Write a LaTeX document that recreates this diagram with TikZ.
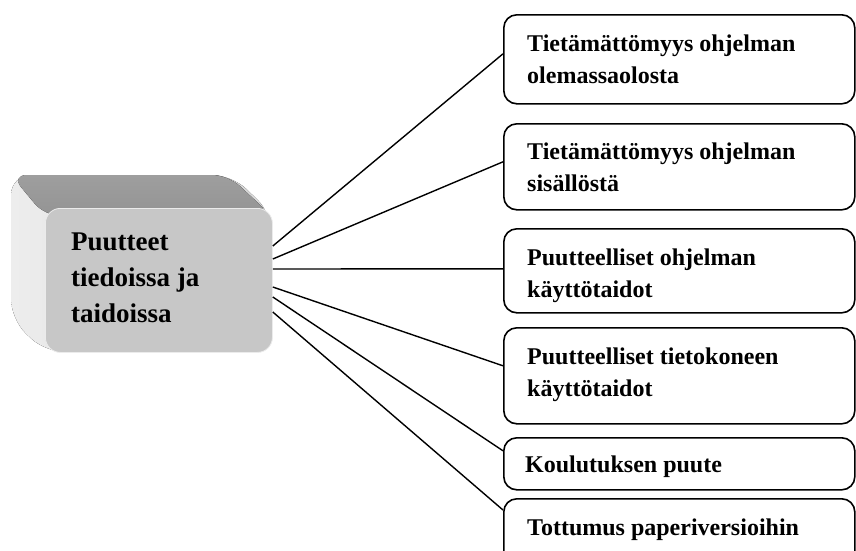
\documentclass[tikz,border=0pt]{standalone}
\usepackage{fontspec}
\setmainfont{Liberation Serif}
\begin{document}
\begin{tikzpicture}[x=1pt,y=-1pt,
  rbox/.style={draw=black, line width=1.6pt, rounded corners=13pt, fill=white, inner sep=0pt, anchor=north west, minimum width=351pt},
  rtext/.style={anchor=north west, inner sep=0pt, align=left, font=\bfseries\fontsize{24}{32}\selectfont},
  ltext/.style={anchor=north west, inner sep=0pt, align=left, font=\bfseries\fontsize{27}{36}\selectfont},
  conn/.style={line width=1.4pt}]
\clip (0,0) rectangle (856,550);
% 3D box: side faces
\fill[left color=black!7, right color=black!16, rounded corners=20pt]
  (11,319) -- (11,175) -- (232,175) -- (272,214) -- (272,352) -- (45,352) -- cycle;
\fill[top color=black!38, bottom color=black!42, rounded corners=16pt]
  (11,175) -- (228,175) -- (272,216) -- (45,216) -- cycle;
\node[fill=black!22, draw=black!8, line width=0.8pt, rounded corners=15pt, inner sep=0pt,
  anchor=north west, minimum width=227pt, minimum height=144pt] (main) at (45,208) {};
\node[ltext] (maintext) at (71,233) {Puutteet\\tiedoissa ja\\taidoissa};
% right boxes
\node[rbox, minimum height=89pt] (b1) at (503,14) {};
\node[rbox, minimum height=86pt] (b2) at (503,123) {};
\node[rbox, minimum height=84pt] (b3) at (503,228) {};
\node[rbox, minimum height=96pt] (b4) at (503,327) {};
\node[rbox, minimum height=52pt] (b5) at (503,437) {};
\node[rbox, minimum height=70pt] (b6) at (503,498) {};
\node[rtext] (t1) at (527,35) {Tietämättömyys ohjelman\\olemassaolosta};
\node[rtext] (t2) at (527,143) {Tietämättömyys ohjelman\\sisällöstä};
\node[rtext] (t3) at (527,249) {Puutteelliset ohjelman\\käyttötaidot};
\node[rtext] (t4) at (527,348) {Puutteelliset tietokoneen\\käyttötaidot};
\node[rtext] (t5) at (525,456) {Koulutuksen puute};
\node[rtext] (t6) at (527,519) {Tottumus paperiversioihin};
% connectors
\draw[conn] ([yshift=-38pt]main.north east) -- ([yshift=5.5pt]b1.west);
\draw[conn] ([yshift=-51pt]main.north east) -- ([yshift=5pt]b2.west);
\draw[conn] ([yshift=-61pt]main.north east) -- ([yshift=2pt]b3.west);
\draw[conn] ([yshift=-79pt]main.north east) -- ([yshift=10pt]b4.west);
\draw[conn] ([yshift=-89pt]main.north east) -- ([yshift=13pt]b5.west);
\draw[conn] ([yshift=-104pt]main.north east) -- ([yshift=-12pt]b6.north west);
\end{tikzpicture}
\end{document}
